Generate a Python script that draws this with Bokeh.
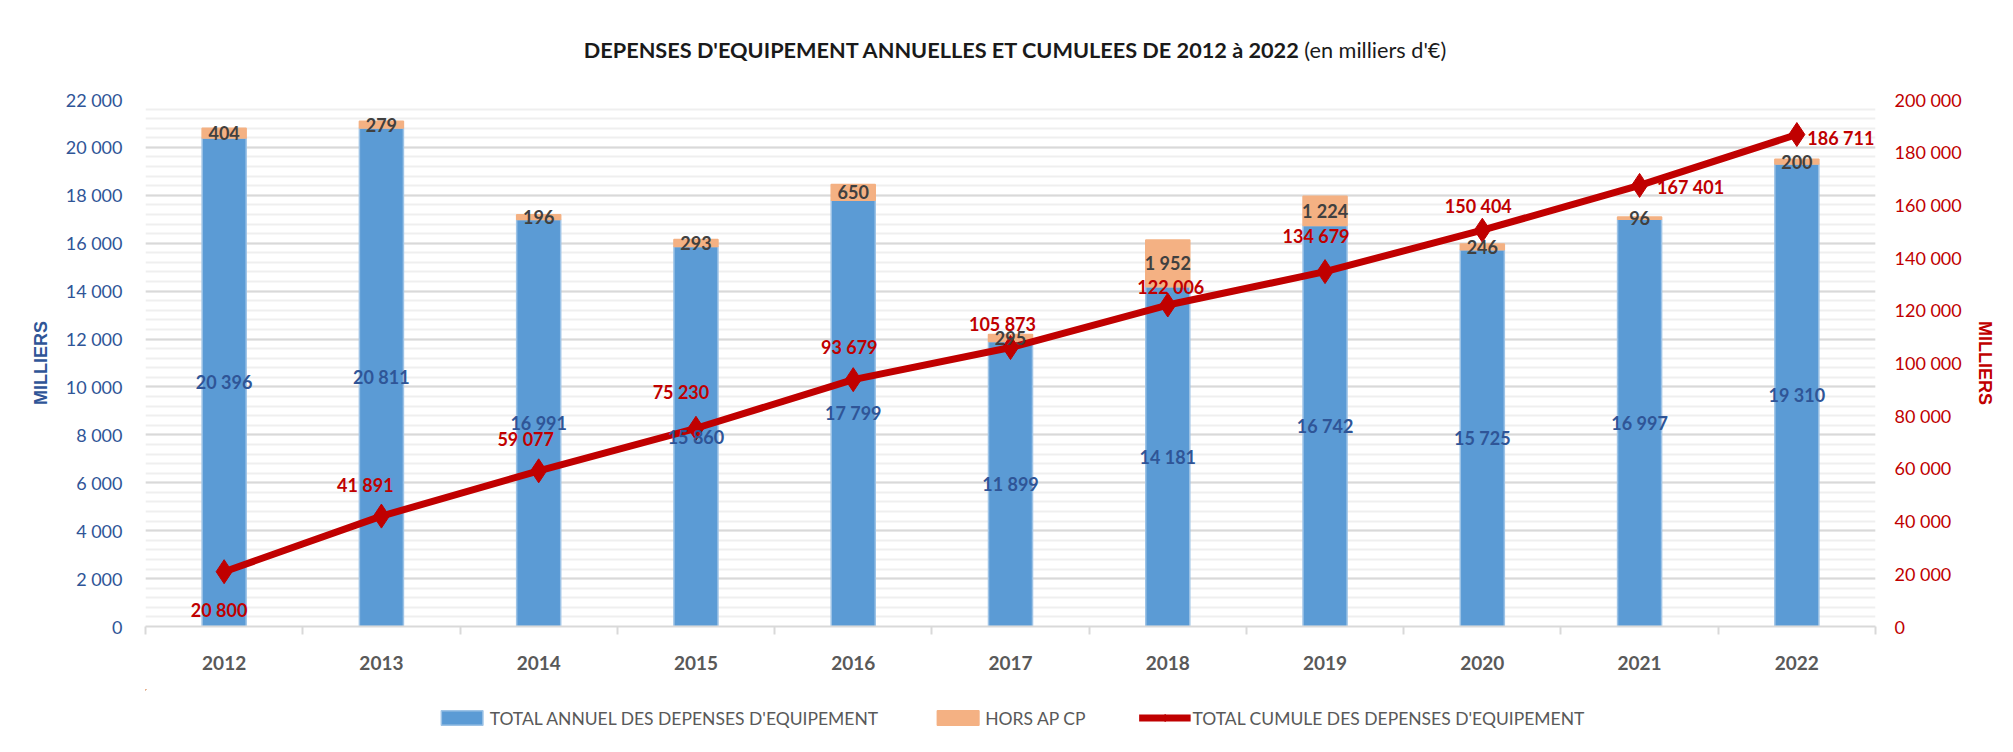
import numpy as np
from bokeh.plotting import figure
from bokeh.layouts import column
from bokeh.models import (ColumnDataSource, Range1d, LinearAxis, FixedTicker,
                          SingleIntervalTicker, CustomJSTickFormatter, LabelSet,
                          Legend, LegendItem, Div)
from bokeh.core.properties import value
from bokeh.embed import file_html
from bokeh.resources import INLINE

# ---------------- data ----------------
years = ["2012", "2013", "2014", "2015", "2016", "2017", "2018", "2019", "2020", "2021", "2022"]
annual = [20396, 20811, 16991, 15860, 17799, 11899, 14181, 16742, 15725, 16997, 19310]
hors_ap_cp = [404, 279, 196, 293, 650, 295, 1952, 1224, 246, 96, 200]
cumul = [20800, 41891, 59077, 75230, 93679, 105873, 122006, 134679, 150404, 167401, 186711]

title_bold = "DEPENSES D'EQUIPEMENT ANNUELLES ET CUMULEES DE 2012 à 2022"
title_norm = "(en milliers d'€)"
series_names = ["TOTAL ANNUEL DES DEPENSES D'EQUIPEMENT", "HORS AP CP",
                "TOTAL CUMULE DES DEPENSES D'EQUIPEMENT"]
axis_title = "MILLIERS"

# ---------------- styles / layout ----------------
BLUE, BLUE_EDGE, ORANGE, RED = "#5B9BD5", "#9DC3E6", "#F4B183", "#C00000"
FONT = "Lato"
W = 1997
TITLE_H, MAIN_H, LEG_H = 77, 602, 57
# label offsets (screen px) for cumulative labels, as placed in the original
cum_dx = [-5, -16, -13, -15, -4, -8, 3, -9, -4, 51, 44]
cum_dy = [-38, 31, 32, 36, 33, 24, 18, 36, 24, -2, -3]


def fmt(v):
    return f"{int(round(v)):,}".replace(",", " ")


n = len(years)
x = np.arange(n) + 0.5
src = ColumnDataSource(dict(
    x=x, year=years, annual=annual, hors=hors_ap_cp, cumul=cumul,
    annual_mid=np.array(annual) / 2.0,
    hors_mid=np.array(annual) + np.array(hors_ap_cp) / 2.0,
    annual_txt=[fmt(v) for v in annual],
    hors_txt=[fmt(v) for v in hors_ap_cp],
    cumul_txt=[fmt(v) for v in cumul],
    dx=cum_dx, dy=cum_dy,
))

# ---------------- title ----------------
title = Div(text=f"<div style='width:{W}px; box-sizing:border-box; text-align:center; "
                 f"padding-left:23px; padding-top:30px; font-family:Lato; font-size:21.7px; "
                 f"color:#1A1A1A; white-space:nowrap'>"
                 f"<b>{title_bold}</b> {title_norm}</div>",
            width=W, height=TITLE_H)

# ---------------- main chart ----------------
p = figure(width=W, height=MAIN_H, x_range=Range1d(0, n), y_range=Range1d(0, 22000),
           output_backend="svg", toolbar_location=None,
           min_border_left=145, min_border_right=117, min_border_top=12, min_border_bottom=63)
p.outline_line_color = None
p.background_fill_color = "white"
p.extra_y_ranges = {"right": Range1d(0, 200000)}

thousands = CustomJSTickFormatter(
    code="return Math.round(tick).toString().replace(/\\B(?=(\\d{3})+(?!\\d))/g, ' ');")

# left axis
yax = p.yaxis[0]
yax.ticker = SingleIntervalTicker(interval=2000, num_minor_ticks=5)
yax.formatter = thousands
yax.axis_line_color = None
yax.major_tick_line_color = None
yax.minor_tick_line_color = None
yax.major_tick_out = 0
yax.major_tick_in = 0
yax.major_label_standoff = 19
yax.major_label_text_font = FONT
yax.major_label_text_font_size = "18px"
yax.major_label_text_color = "#2F5597"
yax.axis_label = axis_title
yax.axis_label_standoff = 12
yax.axis_label_text_font = "Liberation Sans"
yax.axis_label_text_font_size = "18px"
yax.axis_label_text_font_style = "bold"
yax.axis_label_text_color = "#2F5597"

# right axis
rax = LinearAxis(y_range_name="right", ticker=SingleIntervalTicker(interval=20000),
                 formatter=thousands)
rax.axis_line_color = None
rax.major_tick_line_color = None
rax.minor_tick_line_color = None
rax.major_tick_out = 0
rax.major_tick_in = 0
rax.major_label_standoff = 15
rax.major_label_text_font = FONT
rax.major_label_text_font_size = "18px"
rax.major_label_text_color = RED
rax.axis_label = axis_title
rax.axis_label_standoff = 10
rax.axis_label_text_font = "Liberation Sans"
rax.axis_label_text_font_size = "18px"
rax.axis_label_text_font_style = "bold"
rax.axis_label_text_color = RED
p.add_layout(rax, "right")

# x axis
xax = p.xaxis[0]
xax.ticker = FixedTicker(ticks=list(x), minor_ticks=list(range(n + 1)))
xax.formatter = CustomJSTickFormatter(args=dict(years=years),
                                      code="return years[Math.floor(tick)];")
xax.axis_line_color = "#D9D9D9"
xax.axis_line_width = 2
xax.major_tick_line_color = None
xax.major_tick_out = 0
xax.major_tick_in = 0
xax.minor_tick_line_color = "#D9D9D9"
xax.minor_tick_line_width = 2
xax.minor_tick_out = 8
xax.minor_tick_in = 0
xax.major_label_standoff = 21
xax.major_label_text_font = FONT
xax.major_label_text_font_size = "19px"
xax.major_label_text_font_style = "bold"
xax.major_label_text_color = "#595959"

# grids
p.xgrid.grid_line_color = None
p.ygrid.grid_line_color = "#D9D9D9"
p.ygrid.grid_line_width = 2
p.ygrid.minor_grid_line_color = "#EFEFEF"
p.ygrid.minor_grid_line_width = 2

# bars
bar_style = dict(fill_color=[BLUE, ORANGE], line_color=[BLUE_EDGE, ORANGE], line_width=1.5)
bars = p.vbar_stack(["annual", "hors"], x="x", width=0.28, source=src, **bar_style)

# cumulative line
line_style = dict(line_color=RED, line_width=7)
mark_style = dict(marker="diamond", size=24, fill_color=RED, line_color=RED)
line_r = p.line("x", "cumul", source=src, y_range_name="right", **line_style)
pts_r = p.scatter("x", "cumul", source=src, y_range_name="right", **mark_style)

# data labels
p.add_layout(LabelSet(x="x", y="annual_mid", text="annual_txt", source=src,
                      text_align="center", text_baseline="middle",
                      text_font=value(FONT), text_font_size="18px",
                      text_font_style="bold", text_color="#2F5597"))
p.add_layout(LabelSet(x="x", y="hors_mid", text="hors_txt", source=src,
                      text_align="center", text_baseline="middle",
                      text_font=value(FONT), text_font_size="18px",
                      text_font_style="bold", text_color="#404040"))
p.add_layout(LabelSet(x="x", y="cumul", y_range_name="right", text="cumul_txt", source=src,
                      x_offset="dx", y_offset="dy",
                      text_align="center", text_baseline="middle",
                      text_font=value(FONT), text_font_size="18px",
                      text_font_style="bold", text_color=RED))

# ---------------- legend strip ----------------
# same series drawn again, but kept far out of view: only their legend entries show
lg = figure(width=W, height=LEG_H, x_range=Range1d(5 * n, 6 * n),
            y_range=Range1d(-2e6, -1e6),
            output_backend="svg", toolbar_location=None,
            x_axis_location=None, y_axis_location=None,
            min_border_left=86, min_border_right=0, min_border_top=0, min_border_bottom=0)
lg.grid.grid_line_color = None
lg.outline_line_color = None
lg.background_fill_color = "white"
k_bars = lg.vbar_stack(["annual", "hors"], x="x", width=0.28, source=src, **bar_style)
k_line = lg.line("x", "cumul", source=src, **line_style)
k_pts = lg.scatter("x", "cumul", source=src, **mark_style)
legend = Legend(items=[LegendItem(label=series_names[0], renderers=[k_bars[0]]),
                       LegendItem(label=series_names[1], renderers=[k_bars[1]]),
                       LegendItem(label=series_names[2], renderers=[k_line, k_pts])],
                orientation="horizontal", location="center",
                label_text_font=FONT, label_text_font_size="17.5px",
                label_text_color="#595959", glyph_width=52, glyph_height=18,
                label_standoff=2, spacing=53, margin=0, padding=4,
                border_line_color=None, background_fill_alpha=0)
lg.add_layout(legend, "center")

layout = column(title, p, lg, spacing=0)
open("out.html", "w").write(file_html(layout, INLINE))
